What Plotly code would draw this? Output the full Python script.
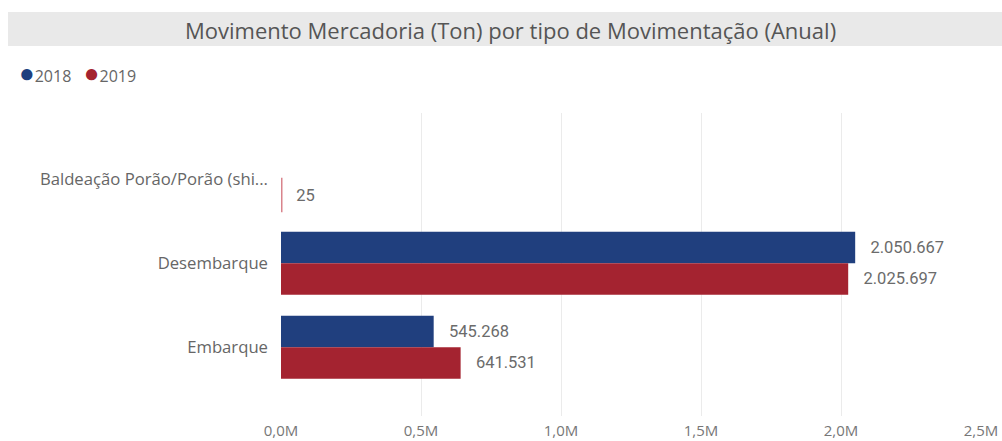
import plotly.graph_objects as go

categories = ["Baldeação Porão/Porão (shi...", "Desembarque", "Embarque"]
values_2018 = [None, 2050667, 545268]
values_2019 = [25, 2025697, 641531]
tick_vals = [0, 500000, 1000000, 1500000, 2000000, 2500000]
tick_text = ["0,0M", "0,5M", "1,0M", "1,5M", "2,0M", "2,5M"]

BLUE = "#203F7E"
RED = "#A42330"
PINK = "#D9848C"

FONT = "Open Sans, Segoe UI, sans-serif"
LABEL_FONT = dict(family="Roboto, sans-serif", size=16.5, color="#6B6B6B")

fig = go.Figure()
fig.add_trace(go.Bar(
    y=categories, x=values_2018, orientation="h", name="2018",
    marker=dict(color=BLUE, line=dict(width=0)),
    texttemplate="\u00a0\u00a0\u00a0%{x:,.0f}", textposition="outside",
    textfont=LABEL_FONT, cliponaxis=False, showlegend=False,
))
# the tiny 2019 value gets a visible outline, as in the reference
line_colors = [PINK if (v is not None and v < 1000) else "rgba(0,0,0,0)" for v in values_2019]
line_widths = [3 if (v is not None and v < 1000) else 0 for v in values_2019]
fig.add_trace(go.Bar(
    y=categories, x=values_2019, orientation="h", name="2019",
    marker=dict(color=RED, line=dict(color=line_colors, width=line_widths)),
    texttemplate="\u00a0\u00a0\u00a0%{x:,.0f}", textposition="outside",
    textfont=LABEL_FONT, cliponaxis=False, showlegend=False,
))

L, R, T, B = 281, 21, 113, 25
W, H = 1002, 441
pw, ph = W - L - R, H - T - B

def px_x(x):
    return (x - L) / pw

def px_y(y):
    return (H - B - y) / ph

fig.update_layout(
    template="none",
    width=W, height=H,
    margin=dict(l=L, r=R, t=T, b=B),
    barmode="group", bargap=0.25, bargroupgap=0,
    separators=",.",
    paper_bgcolor="white", plot_bgcolor="white",
    font=dict(family=FONT, color="#666666"),
    xaxis=dict(
        range=[0, 2500000], tickvals=tick_vals, ticktext=tick_text,
        showgrid=True, gridcolor="#EBEBEB", gridwidth=1,
        zeroline=False, showline=False, ticks="", automargin=False,
        ticklabelstandoff=4,
        tickfont=dict(family=FONT, size=15, color="#777777"),
        fixedrange=True,
    ),
    yaxis=dict(
        type="category", categoryorder="array", categoryarray=categories,
        range=[2.82, -0.79], showgrid=False, zeroline=False, showline=False,
        ticks="", ticklabelstandoff=12, automargin=False,
        tickfont=dict(family=FONT, size=16.7, color="#666666"),
        fixedrange=True,
    ),
    shapes=[dict(
        type="rect", xref="paper", yref="paper", layer="below",
        x0=px_x(8), x1=px_x(1002), y0=px_y(46), y1=px_y(12),
        fillcolor="#E9E9E9", line=dict(width=0),
    )],
    annotations=[
        dict(
            xref="paper", yref="paper", x=px_x(510), y=px_y(30),
            xanchor="center", yanchor="middle", showarrow=False,
            text="Movimento Mercadoria (Ton) por tipo de Movimentação (Anual)",
            font=dict(family=FONT, size=22, color="#555555"),
        ),
        dict(
            xref="paper", yref="paper", x=px_x(17), y=px_y(72),
            xanchor="left", yanchor="middle", showarrow=False,
            text=(f"<span style='color:{BLUE};font-size:26px'>●</span>2018\u00a0\u00a0\u00a0"
                  f"<span style='color:{RED};font-size:26px'>●</span>2019"),
            font=dict(family=FONT, size=16, color="#666666"),
        ),
    ],
)

fig.write_html(
    "out.html",
    config={"displayModeBar": False},
    post_script="document.body.style.margin='0';document.body.style.overflow='hidden';",
)
